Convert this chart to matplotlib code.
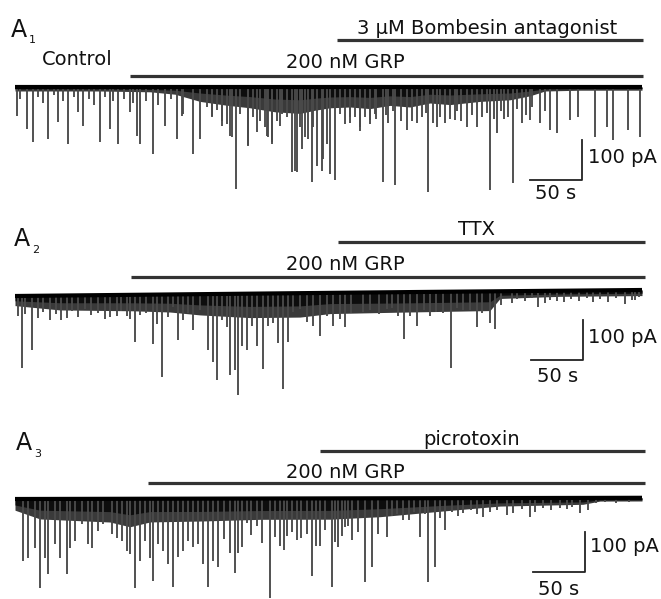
import numpy as np
import matplotlib
matplotlib.use("Agg")
import matplotlib.pyplot as plt

W, H = 661, 599
PX_PER_S = 627 / 600.0     # horizontal scale of the traces
PX_PER_PA = 1 / 2.5        # vertical scale (100 pA = 40 px)

# ---------------- data (times in s, amplitudes in pA) ----------------
# A1: Control -> GRP -> GRP + bombesin antagonist
a1_spk_t = [1.6, 11.2, 17.5, 31.9, 41.4, 51.0, 60.6, 65.4, 81.3, 90.9, 98.9, 110.0,
            116.5, 119.6, 131.8, 143.5, 154.7, 159.5, 170.6, 177.0, 188.2, 197.8,
            205.7, 211.5, 223.3, 231.3, 240.9, 245.6, 253.6, 264.8, 269.6, 274.4,
            280.7, 283.9, 288.7, 295.0,
            306.2, 320.6, 330.1, 339.7, 351.9, 363.6, 374.8, 384.4, 394.9, 403.5,
            411.5, 421.1, 432.2, 441.8, 454.5, 461.0, 476.3, 484.9, 492.8, 502.4,
            511.9, 518.4, 531.1, 539.0, 555.0, 566.2, 572.5, 586.9, 598.1,
            161.1, 183.4, 188.2, 193.0, 197.8, 202.6, 207.4, 215.3, 223.3, 228.0,
            234.4, 239.2, 242.4, 245.6, 250.4, 255.2, 260.0, 267.9, 272.7, 277.5,
            285.5, 293.5, 298.3, 301.4, 311.0, 315.8, 320.6, 325.4, 330.1, 334.9,
            339.7, 344.5,
            345, 357, 369, 389, 400, 416, 427, 447, 468, 489, 507,
            355, 362, 380, 393, 407, 423, 437, 452, 458, 465, 472, 480, 495,
            5, 22, 27, 37, 46, 56, 71, 76, 86, 94, 104, 113, 125, 137, 149]
a1_spk_a = [72, 105, 138, 130, 88, 143, 63, 97, 138, 105, 143, 63,
            122, 143, 168, 97, 130, 72, 168, 130, 72, 97,
            122, 255, 147, 113, 122, 138, 97, 213, 213, 155,
            130, 238, 197, 180,
            232, 90, 99, 83, 237, 245, 108, 90, 262, 99,
            90, 83, 99, 99, 257, 116, 241, 90, 83, 90,
            108, 116, 83, 75, 124, 99, 133, 108, 124,
            67, 50, 75, 58, 84, 92, 125, 67, 146, 75,
            84, 101, 125, 142, 84, 67, 75, 209, 101, 125,
            101, 209, 142, 217, 67, 92, 75, 75, 109, 75,
            92, 67,
            80, 90, 85, 75, 90, 80, 85, 75, 80, 70, 60,
            70, 60, 85, 65, 75, 60, 70, 65, 80, 60, 75, 55, 50,
            30, 25, 40, 20, 35, 25, 30, 45, 25, 35, 30, 40, 35, 45, 30]
a1_env_t = [0, 43, 81.3, 129.2, 153.1, 177, 200.9, 224.9, 248.8, 272.7, 287.1, 301.4,
            320.6, 339.7, 358.9, 378, 397.1, 416.3, 445, 473.7, 492.8, 507.2, 540.7, 600]
a1_core = [5, 5, 5, 6, 8, 15, 20, 24, 30, 32, 28, 25,
           24, 26, 22, 24, 18, 20, 17, 15, 10, 5, 4, 4]
a1_halo = [10, 10, 10, 12, 18, 36, 45, 52, 62, 66, 58, 52,
           50, 54, 46, 50, 40, 44, 36, 32, 22, 10, 8, 8]
a1_base_t = [0, 600]
a1_base = [0, 0]

# A2: GRP -> GRP + TTX
a2_spk_t = [6.4, 16.0, 33.5, 49.5, 67.0, 86.1, 97.3, 106.9, 114.8,
            132.3, 135.6, 140.4, 146.7, 151.5, 156.3, 161.1, 165.8, 170.6, 177.0,
            185.0, 189.8, 193.0, 197.8, 202.6, 205.7, 210.5, 213.7, 216.9, 221.7,
            226.5, 231.3, 237.6, 242.4, 247.2, 252.0, 256.7, 261.5, 266.3, 272.7,
            279.1, 285.5, 291.9, 298.3, 304.6, 311.0, 315.8,
            333.3, 355.7, 366.8, 372.2, 385.0, 397.1, 409.9, 417.2,
            429.0, 441.8, 454.5, 459.3, 475.3, 500.8, 518.4, 553.4, 583.7, 593.3,
            3, 10, 22, 27, 39, 44, 55, 60, 73, 79, 91, 101, 110, 120, 125,
            322, 340, 348, 361, 378, 391, 403, 423, 435, 447, 465,
            480, 488, 495, 507, 512, 525, 532, 540, 547, 560, 567, 575, 590, 597]
a2_spk_a = [181, 135, 60, 56, 35, 60, 52, 52, 118,
            123, 73, 207, 57, 32, 115, 65, 48, 90, 40,
            140, 169, 215, 65, 82, 203, 190, 253, 132, 140,
            82, 132, 190, 82, 73, 123, 240, 123, 48, 40,
            73, 82, 107, 57, 82, 65, 86,
            50, 43, 60, 118, 85, 60, 53, 190,
            45, 88, 80, 93, 30, 40, 25, 30, 35, 25,
            50, 45, 55, 40, 45, 60, 40, 55, 50, 45, 55, 40, 60, 50, 45,
            50, 45, 55, 40, 60, 45, 50, 40, 45, 55, 35,
            20, 25, 18, 30, 22, 28, 20, 25, 18, 22, 30, 20, 25, 18]
a2_env_t = [0, 43, 112.9, 148.3, 177, 224.9, 272.7, 301.4, 368.4, 454.5, 464.1, 521.5, 600]
a2_core = [12, 18, 20, 22, 27, 32, 32, 27, 27, 26, 10, 8, 8]
a2_halo = [24, 36, 40, 44, 52, 60, 60, 52, 50, 48, 18, 14, 14]
a2_base_t = [0, 300, 600]
a2_base = [0, 8, 15]

# A3: GRP -> GRP + picrotoxin
a3_spk_t = [7.9, 12.7, 19.1, 23.9, 28.7, 31.9, 38.3, 43.1, 49.5, 52.6, 57.4, 63.8,
            70.1, 73.4, 79.7, 84.5, 92.5, 97.3, 102.1, 106.9, 110.0, 114.8, 119.6,
            124.4, 129.2, 132.3, 137.1, 141.9, 146.7, 151.5, 156.3, 161.1, 165.8,
            170.6, 175.4, 180.2, 185.0, 189.8, 194.6,
            205.7, 210.5, 213.7, 221.7, 231.3, 244.0, 253.6, 260.0, 269.6, 283.9, 291.9,
            303.1, 309.4, 315.8, 322.2, 334.9, 341.3, 355.7, 371.6, 387.6, 395.5,
            401.9, 411.5, 429.0, 448.1, 470.5, 492.8, 521.5, 540.7,
            200, 217, 226, 236, 249, 257, 265, 274, 279, 288, 297, 306, 313, 319, 328, 347,
            361, 366, 377, 382, 392, 407, 418, 424, 436, 442, 455, 461, 477, 485, 498,
            505, 513, 528, 533, 548,
            556, 565, 575, 588]
a3_spk_a = [155, 147, 122, 222, 147, 188, 113, 147, 188, 122, 105, 63,
            113, 122, 80, 63, 88, 97, 105, 130, 138, 222, 155,
            105, 147, 205, 113, 130, 163, 222, 147, 130, 105,
            122, 113, 163, 222, 155, 172,
            136, 186, 136, 61, 69, 248, 119, 94, 103, 194, 119,
            222, 122, 72, 105, 209, 172, 97, 55, 97, 209,
            172, 80, 38, 47, 43, 47, 26, 38,
            100, 120, 90, 110, 95, 130, 85, 100, 90, 120, 80, 110, 95, 70, 85, 90,
            45, 40, 55, 35, 40, 50, 35, 45, 30, 40, 35, 30, 38, 28, 35,
            25, 30, 28, 22, 30,
            12, 10, 12, 10]
a3_env_t = [0, 23.9, 90.9, 110, 129.2, 177, 234.4, 301.4, 349.3, 409.6, 464.1, 543.5, 559.8, 600]
a3_core = [15, 28, 32, 40, 32, 32, 30, 30, 26, 18, 12, 10, 5, 5]
a3_halo = [28, 50, 58, 70, 58, 56, 52, 52, 46, 32, 20, 16, 8, 8]
a3_base_t = [0, 600]
a3_base = [0, 3]

# drug application periods (s)
a1_grp = (110, 601)
a1_bomb = (308, 601)
a2_grp = (111, 603)
a2_ttx = (309, 603)
a3_grp = (127, 603)
a3_pic = (292, 603)

# ---------------- figure ----------------
plt.rcParams['font.family'] = ['DejaVu Sans']
fig = plt.figure(figsize=(W / 100, H / 100), dpi=100)
fig.patch.set_facecolor('white')

FS = 14


def ftext(x, y, s, size=FS, ha='left'):
    fig.text(x / W, 1 - y / H, s, fontsize=size, ha=ha, va='baseline', color='#111111')


def make_axes(top_px, bot_px, base_px):
    ax = fig.add_axes([0, 1 - bot_px / H, 1, (bot_px - top_px) / H])
    ax.set_xlim(-15 / PX_PER_S, (W - 15) / PX_PER_S)
    ax.set_ylim(-(bot_px - base_px) / PX_PER_PA, (base_px - top_px) / PX_PER_PA)
    ax.axis('off')
    return ax


def draw_trace(ax, spk_t, spk_a, env_t, core, halo, base_t, base_v):
    tt = np.linspace(0, 600, 1201)
    base = np.interp(tt, base_t, base_v)
    st = np.asarray(spk_t, dtype=float)
    b = np.interp(st, base_t, base_v)
    ax.vlines(st, b, b - np.asarray(spk_a), color='#4a4a4a', lw=1.35)
    ax.fill_between(tt, base, base - np.interp(tt, env_t, halo), color='#3a3a3a', lw=0)
    ax.fill_between(tt, base, base - np.interp(tt, env_t, core), color='#0d0d0d', lw=0)
    ax.plot(tt, base, color='black', lw=3.0, solid_capstyle='butt')


def bar(ax, span, level):
    ax.plot(span, [level, level], color='#333333', lw=2.3, solid_capstyle='butt')


def scalebar(ax, t_corner, y_corner):
    ax.plot([t_corner - 50, t_corner, t_corner], [y_corner, y_corner, y_corner + 100],
            color='#222222', lw=1.3)


# A1
ax1 = make_axes(0, 200, 87)
draw_trace(ax1, a1_spk_t, a1_spk_a, a1_env_t, a1_core, a1_halo, a1_base_t, a1_base)
bar(ax1, a1_grp, 27.5)
bar(ax1, a1_bomb, 117.5)
scalebar(ax1, 542.6, -232.5)
ftext(11, 37, 'A', size=17)
ftext(29, 43, '1', size=8)
ftext(42, 65, 'Control')
ftext(345, 68, '200 nM GRP', ha='center')
ftext(487, 34, '3 \u03bcM Bombesin antagonist', ha='center')
ftext(588, 163, '100 pA')
ftext(535, 199, '50 s')

# A2
ax2 = make_axes(200, 400, 296)
draw_trace(ax2, a2_spk_t, a2_spk_a, a2_env_t, a2_core, a2_halo, a2_base_t, a2_base)
bar(ax2, a2_grp, 47.5)
bar(ax2, a2_ttx, 135)
scalebar(ax2, 543.5, -160)
ftext(14, 246, 'A', size=17)
ftext(32, 253, '2', size=8)
ftext(345, 270, '200 nM GRP', ha='center')
ftext(477, 235, 'TTX', ha='center')
ftext(588, 343, '100 pA')
ftext(537, 382, '50 s')

# A3
ax3 = make_axes(400, 599, 499)
draw_trace(ax3, a3_spk_t, a3_spk_a, a3_env_t, a3_core, a3_halo, a3_base_t, a3_base)
bar(ax3, a3_grp, 40)
bar(ax3, a3_pic, 120)
scalebar(ax3, 545.5, -182.5)
ftext(16, 450, 'A', size=17)
ftext(34, 457, '3', size=8)
ftext(345, 478, '200 nM GRP', ha='center')
ftext(472, 445, 'picrotoxin', ha='center')
ftext(590, 552, '100 pA')
ftext(538, 595, '50 s')

fig.savefig('out.png', dpi=100, facecolor='white')
